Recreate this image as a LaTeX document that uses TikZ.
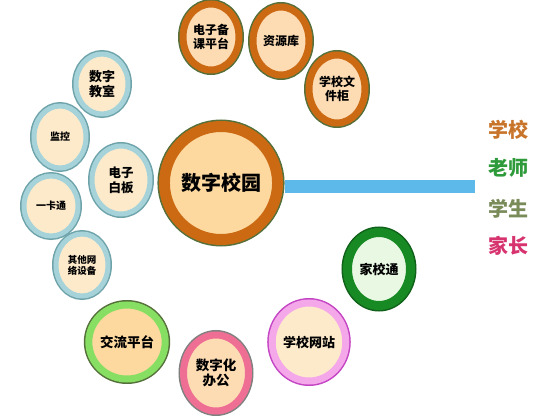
\documentclass[tikz,border=0pt]{standalone}
\usepackage{fontspec}
\newfontfamily\cjk{Noto Sans CJK SC}
\usetikzlibrary{shapes.geometric}
\definecolor{ringorange}{HTML}{CC6A14}
\definecolor{innerpeach}{HTML}{FDDCB4}
\definecolor{innermain}{HTML}{FDD9A0}
\definecolor{olive}{HTML}{55703A}
\definecolor{ringblue}{HTML}{A6D3DA}
\definecolor{lineblue}{HTML}{6FA3AA}
\definecolor{innercream}{HTML}{FDEACB}
\definecolor{ringlime}{HTML}{86DE62}
\definecolor{ringpink}{HTML}{EE6F93}
\definecolor{ringmagenta}{HTML}{F4A8EA}
\definecolor{linemagenta}{HTML}{C445C4}
\definecolor{ringgreen}{HTML}{178A24}
\definecolor{innergreen}{HTML}{E8F8E3}
\definecolor{barblue}{HTML}{5CB9E9}
\definecolor{schoolc}{HTML}{C8742A}
\definecolor{teacherc}{HTML}{2E9A3A}
\definecolor{studentc}{HTML}{7A8B5A}
\definecolor{parentc}{HTML}{D6336F}
\tikzset{
  ball/.style n args={4}{ellipse, inner sep=0pt, align=center, text=black,
    fill=#2, draw=#1, line width=#4, preaction={draw=#3, line width=#4+3pt}},
  small/.style={font=\cjk\bfseries\fontsize{12}{14}\selectfont},
  tiny/.style={font=\cjk\bfseries\fontsize{10}{11.5}\selectfont},
  legend/.style={font=\cjk\bfseries\fontsize{20}{22}\selectfont}
}
\begin{document}
\begin{tikzpicture}[x=1pt,y=-1pt]
    \useasboundingbox (0,0) rectangle (539,418);
    % centre
    \node (campus) at (221,183) [ball={ringorange}{innermain}{olive}{11pt}, minimum width=99pt, minimum height=113pt,
        font=\cjk\bfseries\fontsize{20}{22}\selectfont] {数字校园};
    \coordinate (barend) at (475,186);
    \draw [barblue, line width=13pt, shorten <=1.5pt] (campus.east |- barend) -- (barend);
    % top branch
    \node (prep) at (211,37) [ball={ringorange}{innerpeach}{olive}{7pt}, minimum width=56pt, minimum height=66pt, small] {电子备\\课平台};
    \node (res) at (281,41) [ball={ringorange}{innerpeach}{olive}{7pt}, minimum width=56pt, minimum height=68pt, small] {资源库};
    \node (files) at (337,89) [ball={ringorange}{innerpeach}{olive}{7pt}, minimum width=56pt, minimum height=68pt, small] {学校文\\件柜};
    % left branch
    \node (classroom) at (102,84) [ball={ringblue}{innercream}{lineblue}{5pt}, minimum width=52pt, minimum height=60pt,
        font=\cjk\bfseries\fontsize{13}{15}\selectfont] {数字\\教室};
    \node (monitor) at (60,137) [ball={ringblue}{innercream}{lineblue}{5pt}, minimum width=52pt, minimum height=62pt, tiny] {监控};
    \node (board) at (121,180) [ball={ringblue}{innercream}{lineblue}{5pt}, minimum width=58pt, minimum height=68pt,
        font=\cjk\bfseries\fontsize{12.5}{15}\selectfont] {电子\\白板};
    \node (card) at (51,206) [ball={ringblue}{innercream}{lineblue}{5pt}, minimum width=54pt, minimum height=60pt, tiny] {一卡通};
    \node (netdev) at (82,265) [ball={ringblue}{innercream}{lineblue}{5pt}, minimum width=52pt, minimum height=62pt,
        font=\cjk\bfseries\fontsize{9.5}{11}\selectfont] {其他网\\络设备};
    % bottom branch
    \node (chat) at (127,342) [ball={ringlime}{innermain}{olive}{7pt}, minimum width=64pt, minimum height=74pt,
        font=\cjk\bfseries\fontsize{13.5}{15}\selectfont] {交流平台};
    \node (office) at (216,373) [ball={ringpink}{innerpeach}{gray}{7pt}, minimum width=65pt, minimum height=76pt,
        font=\cjk\bfseries\fontsize{13.5}{15}\selectfont] {数字化\\办公};
    \node (site) at (309,342) [ball={ringmagenta}{innercream}{linemagenta}{7pt}, minimum width=65pt, minimum height=78pt,
        font=\cjk\bfseries\fontsize{13}{15}\selectfont] {学校网站};
    \node (homeschool) at (379,269) [ball={ringgreen}{innergreen}{ringgreen!70!black}{9pt}, minimum width=63pt, minimum height=73pt,
        font=\cjk\bfseries\fontsize{13}{15}\selectfont] {家校通};
    % legend
    \node (school) at (508,130) [legend, text=schoolc] {学校};
    \node (teacher) at (508,168) [legend, text=teacherc] {老师};
    \node (student) at (508,209) [legend, text=studentc] {学生};
    \node (parent) at (508,246) [legend, text=parentc] {家长};
\end{tikzpicture}
\end{document}
